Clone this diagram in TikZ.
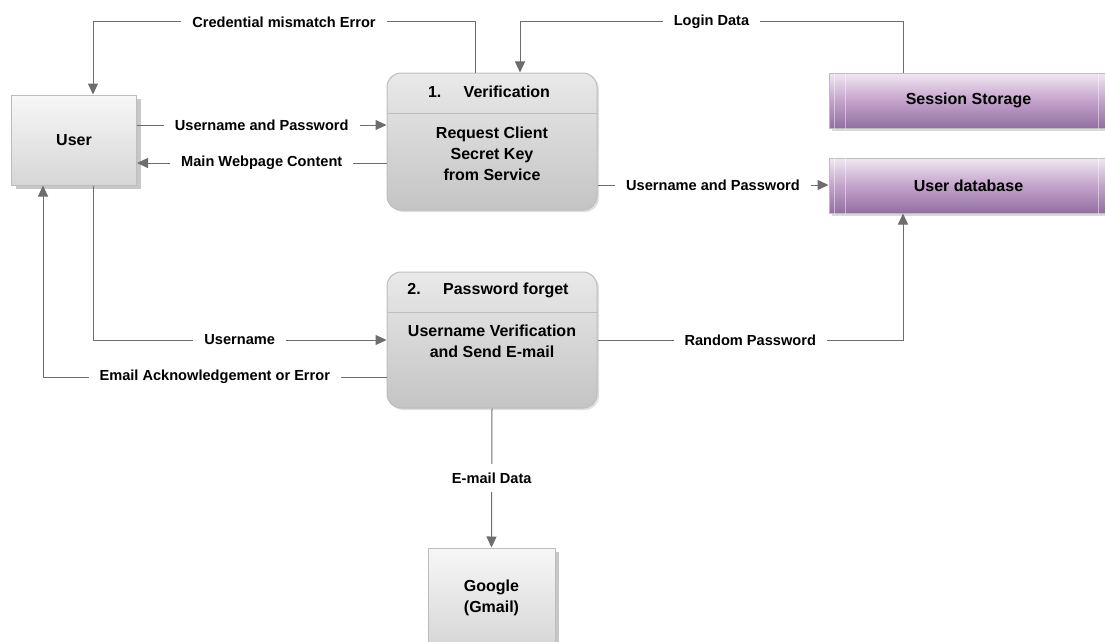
\documentclass[tikz,border=0pt]{standalone}
\usepackage{fontspec}
\setmainfont{Liberation Sans}
\usetikzlibrary{positioning,shapes,arrows.meta,shadows}

\definecolor{linegray}{HTML}{6D6D6D}
\definecolor{boxline}{HTML}{BDBDBD}
\definecolor{boxtop}{HTML}{F7F7F7}
\definecolor{boxbot}{HTML}{D6D6D6}
\definecolor{proctop}{HTML}{E9E9E9}
\definecolor{procbot}{HTML}{C4C4C4}
\definecolor{storetop}{HTML}{F1E8F2}
\definecolor{storemid}{HTML}{C3A3CB}
\definecolor{storebot}{HTML}{936FA1}

\begin{document}
\begin{tikzpicture}[x=1pt,y=-1pt,
  font=\fontsize{14.6}{21}\selectfont\bfseries,
  boxfont/.style={font=\fontsize{16}{21}\selectfont\bfseries},
  flow/.style={draw=linegray, line width=1pt, -{Triangle[length=11pt,width=10pt]}},
  lbl/.style={fill=white, inner xsep=11pt, inner ysep=2pt},
  entity/.style={draw=boxline, line width=1pt, top color=boxtop, bottom color=boxbot,
    minimum width=125pt, minimum height=90pt, align=center, boxfont,
    drop shadow={shadow xshift=4pt, shadow yshift=-4pt, opacity=1, fill=black!22}},
  process/.style={draw=boxline, line width=1pt, rounded corners=14pt,
    top color=proctop, bottom color=procbot, minimum width=210pt, minimum height=137pt,
    drop shadow={shadow xshift=2pt, shadow yshift=-2pt, opacity=1, fill=black!12}},
  store/.style={draw=boxline, line width=1pt, top color=storetop, bottom color=storebot,
    middle color=storemid, minimum width=279pt, minimum height=55pt, boxfont,
    drop shadow={shadow xshift=3pt, shadow yshift=-3pt, opacity=1, fill=black!15}},
  bar/.style={draw=white, opacity=0.45, line width=1pt}]

\useasboundingbox (0,0) rectangle (1105,642);
\clip (0,0) rectangle (1105,642);

% external entities
\node[entity] (user) at (74,140) {User};
\node[entity, minimum width=127pt, minimum height=100pt] (google) at (491.5,598) {Google\\(Gmail)};

% processes
\node[process] (verif) at (492,141.5) {};
\draw[boxline] ([yshift=28.5pt]verif.west) -- ([yshift=28.5pt]verif.east);
\node[boxfont] (veriftitle) at (489,92) {1.\hspace{1.4em}Verification};
\node[boxfont, align=center] (verifbody) at (492,154) {Request Client\\Secret Key\\from Service};

\node[process, minimum height=136pt] (pwd) at (492,340) {};
\draw[boxline] ([yshift=28pt]pwd.west) -- ([yshift=28pt]pwd.east);
\node[boxfont] (pwdtitle) at (488,290) {2.\hspace{1.4em}Password forget};
\node[boxfont, align=center] (pwdbody) at (492,341.5) {Username Verification\\and Send E-mail};

% data stores
\node[store] (sess) at (968.5,100.5) {Session Storage};
\node[store] (udb) at (968.5,185.5) {User database};
\foreach \s in {sess,udb}{
  \draw[bar] ([xshift=6pt]\s.north west) -- ([xshift=6pt]\s.south west);
  \draw[bar] ([xshift=17pt]\s.north west) -- ([xshift=17pt]\s.south west);
  \draw[bar] ([xshift=-10pt]\s.north east) -- ([xshift=-10pt]\s.south east);
}

% bends and levels
\coordinate (credbend) at (93,22);
\coordinate (loginbend) at (520,22);
\coordinate (upw) at (0,125);
\coordinate (mwc) at (0,163);
\coordinate (udbpw) at (0,185);
\coordinate (uname) at (93,340);
\coordinate (ack) at (43,377);
\coordinate (rnd) at (903,340);

% data flows
\draw[flow] ([xshift=-17pt]verif.north) |- node[lbl, pos=0.75] {Credential mismatch Error} (credbend) -- (credbend |- user.north);
\draw[flow] ([xshift=-65.5pt]sess.north) |- node[lbl, pos=0.75] {Login Data} (loginbend) -- (loginbend |- verif.north);
\draw[flow] (user.east |- upw) -- node[lbl] {Username and Password} (verif.west |- upw);
\draw[flow] (verif.west |- mwc) -- node[lbl] {Main Webpage Content} (user.east |- mwc);
\draw[flow] (verif.east |- udbpw) -- node[lbl] {Username and Password} (udb.west |- udbpw);
\draw[flow] (user.south -| uname) -- (uname) -- node[lbl] {Username} (pwd.west |- uname);
\draw[flow] (pwd.west |- ack) -- node[lbl] {Email Acknowledgement or Error} (ack) -- (user.south -| ack);
\draw[flow] (pwd.east |- rnd) -- node[lbl] {Random Password} (rnd) -- (udb.south -| rnd);
\draw[flow] (pwd.south) -- node[lbl, inner ysep=9pt] {E-mail Data} (google.north);
\end{tikzpicture}
\end{document}
